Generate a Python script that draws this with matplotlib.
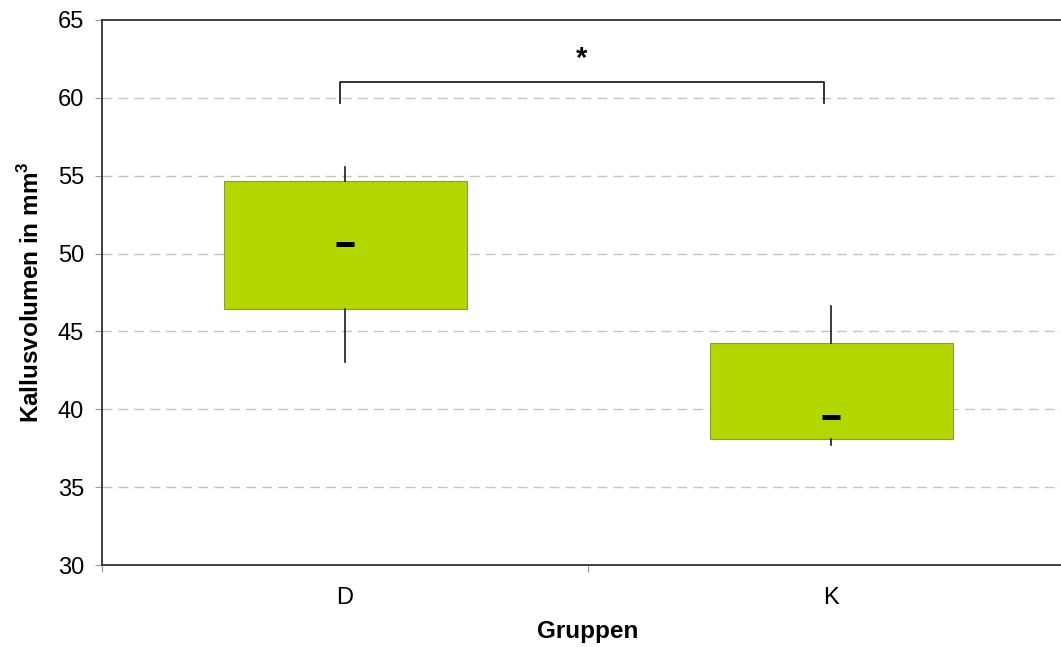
import matplotlib.pyplot as plt

plt.rcParams['font.family'] = ['Liberation Sans', 'DejaVu Sans']

# data
groups = ['D', 'K']
q1 = [46.44, 38.09]
q3 = [54.66, 44.26]
med = [50.61, 39.5]
whis_lo = [43.03, 37.71]
whis_hi = [55.56, 46.63]

# significance bracket
bracket_x = [0.49, 1.485]
bracket_top = 61.04
bracket_leg = 59.69
star_y = 62.5

positions = [0.5, 1.5]
box_color = '#b3d700'

fig = plt.figure(figsize=(10.61, 6.47), dpi=100)
ax = fig.add_axes([102 / 1061, 82 / 647, 972 / 1061, 545 / 647])

stats = []
for i, g in enumerate(groups):
    stats.append(dict(label=g, med=med[i], q1=q1[i], q3=q3[i],
                      whislo=whis_lo[i], whishi=whis_hi[i], fliers=[]))

ax.bxp(stats, positions=positions, widths=0.5, patch_artist=True,
       showcaps=False, showfliers=False,
       boxprops=dict(facecolor=box_color, edgecolor='#8a9a40', linewidth=0.8),
       whiskerprops=dict(color='#1a1a1a', linewidth=1.2),
       medianprops=dict(linewidth=0), zorder=3)

# median as short thick dash
ax.plot(positions, med, linestyle='none', marker='_', markersize=13,
        markeredgewidth=3.6, color='black', zorder=4)

# bracket
ax.plot([bracket_x[0], bracket_x[0], bracket_x[1], bracket_x[1]],
        [bracket_leg, bracket_top, bracket_top, bracket_leg],
        color='#222222', linewidth=1.3, zorder=3)
ax.text(sum(bracket_x) / 2, star_y, '*', ha='center', va='center',
        fontsize=21, fontweight='bold')

ax.set_xlim(0, 2)
ax.set_ylim(30, 65)
ax.set_yticks(range(30, 70, 5))
for y in range(35, 65, 5):
    ax.axhline(y, color='#c4c4c4', linewidth=1, dashes=(7, 4.5), zorder=1)

ax.set_xticks([0, 1, 2])
ax.set_xticklabels(['', '', ''])
ax.set_xticks(positions, minor=True)
ax.set_xticklabels(groups, minor=True)
ax.tick_params(axis='x', which='minor', length=0, pad=16, labelsize=17)
ax.tick_params(axis='x', which='major', length=5, color='#999999')
ax.tick_params(axis='y', length=5, color='#999999', pad=8, labelsize=17)

for s in ['top', 'left', 'bottom', 'right']:
    ax.spines[s].set_linewidth(1.3)
    ax.spines[s].set_color('#333333')

ax.set_ylabel('Kallusvolumen in mm$^\\mathregular{3}$', fontsize=17.5, fontweight='bold', labelpad=10)
ax.set_xlabel('Gruppen', fontsize=17.5, fontweight='bold', labelpad=8)

fig.savefig('out.png', dpi=100)
